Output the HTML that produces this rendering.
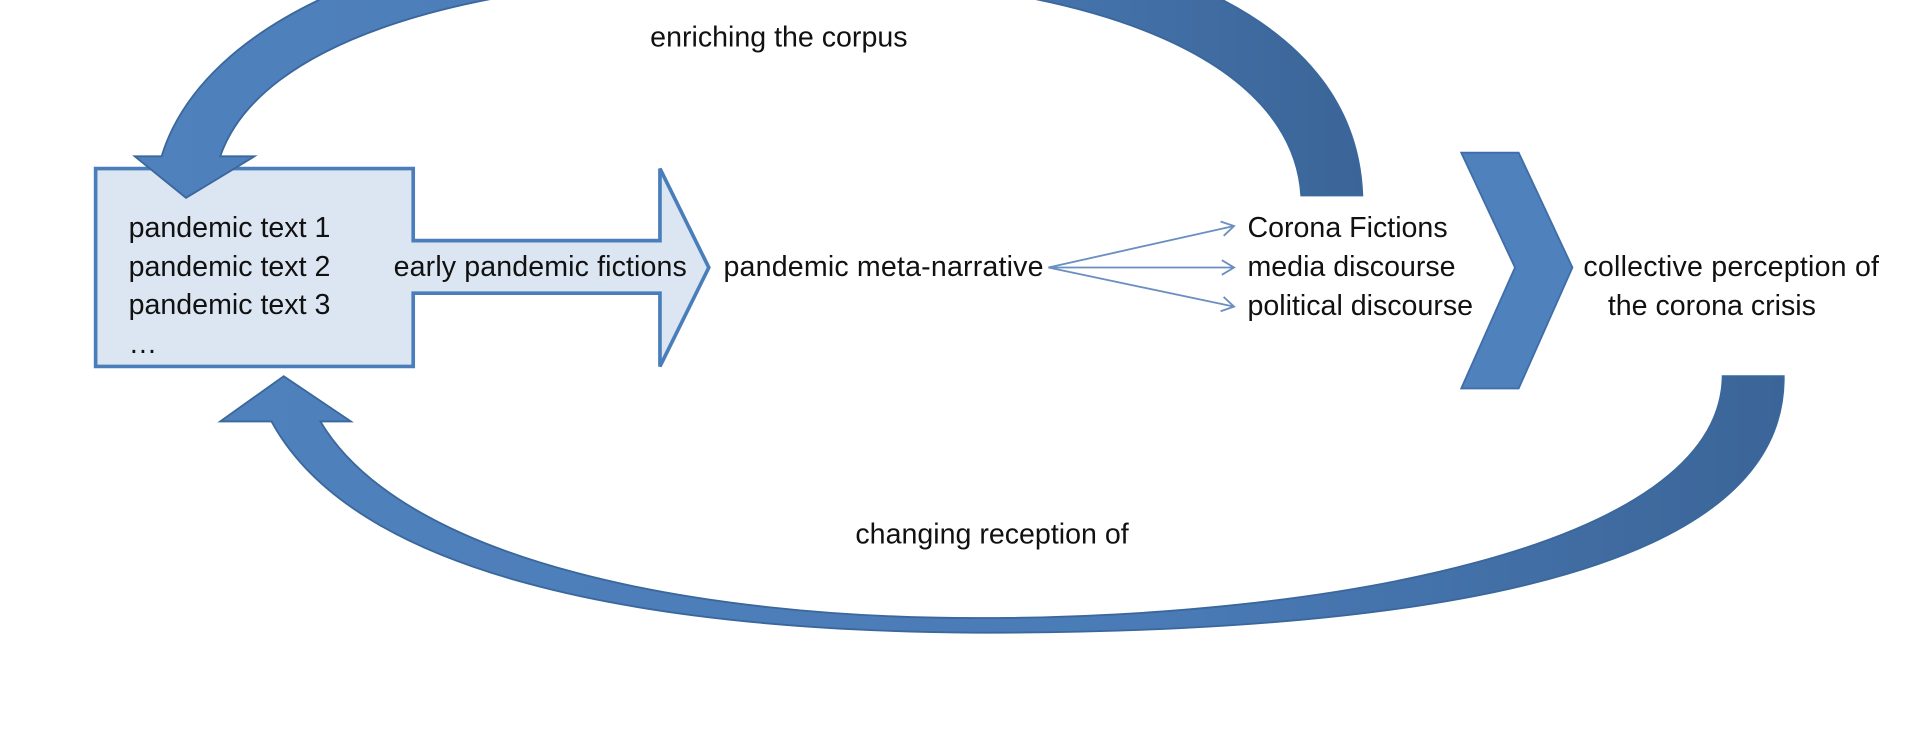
<!DOCTYPE html>
<html><head><meta charset="utf-8"><style>
html,body{margin:0;padding:0;background:#fff;width:1916px;height:750px;overflow:hidden}
svg{display:block}
text{font-family:"Liberation Sans",Arial,sans-serif;font-size:23.4px;fill:#111}
</style></head><body>
<svg width="1916" height="750" viewBox="0 0 1568 614" xmlns="http://www.w3.org/2000/svg">
<defs>
<linearGradient id="g1" x1="0" y1="0" x2="1" y2="0">
<stop offset="0" stop-color="#4f81bd"/><stop offset="0.6" stop-color="#4a7bb7"/><stop offset="1" stop-color="#3b6598"/>
</linearGradient>
<marker id="ah" markerWidth="14" markerHeight="14" refX="11" refY="7" orient="auto" markerUnits="userSpaceOnUse">
<path d="M1,1 L11,7 L1,13" fill="none" stroke="#6a8fc0" stroke-width="1.5"/>
</marker>
</defs>
<!-- chevron -->
<polygon points="1196,125 1243,125 1287,219 1243,318 1196,318 1240,219" fill="#4f81bd" stroke="#3f6ea8" stroke-width="1.5"/>
<!-- box + arrow -->
<polygon points="78,138 338,138 338,197 540,197 540,138 580,219 540,300 540,240 338,240 338,300 78,300" fill="#dce6f2" stroke="#4a7ebb" stroke-width="3"/>
<!-- top arc -->
<path d="M1115,160 C1110,20 950,-65 630,-65 C330,-65 165,20 132,128 L110,128 L152,162 L208,128 L180,128 C212,35 380,-20 630,-20 C900,-20 1058,50 1065,160 Z" fill="url(#g1)" stroke="#3a679c" stroke-width="1.5"/>
<!-- bottom arc -->
<path d="M1460,308 C1462,480 1130,518 800,518 C520,516 290,470 222,345 L180,345 L232,308 L287,345 L262,345 C330,460 570,506 800,506 C1080,506 1408,450 1410,308 Z" fill="url(#g1)" stroke="#3a679c" stroke-width="1.5"/>
<!-- thin arrows -->
<line x1="858" y1="219" x2="1010" y2="185" stroke="#6a8fc0" stroke-width="1.5" marker-end="url(#ah)"/>
<line x1="858" y1="219" x2="1010" y2="219" stroke="#6a8fc0" stroke-width="1.5" marker-end="url(#ah)"/>
<line x1="858" y1="219" x2="1010" y2="251" stroke="#6a8fc0" stroke-width="1.5" marker-end="url(#ah)"/>
<text x="105" y="194">pandemic text 1</text>
<text x="105" y="226">pandemic text 2</text>
<text x="105" y="257">pandemic text 3</text>
<text x="105" y="289">…</text>
<text x="322" y="226" textLength="240">early pandemic fictions</text>
<text x="592" y="226" textLength="262">pandemic meta-narrative</text>
<text x="1021" y="194">Corona Fictions</text>
<text x="1021" y="226">media discourse</text>
<text x="1021" y="258">political discourse</text>
<text x="1296" y="226" textLength="242">collective perception of</text>
<text x="1316" y="258">the corona crisis</text>
<text x="532" y="38">enriching the corpus</text>
<text x="700" y="445">changing reception of</text>
</svg>
</body></html>
